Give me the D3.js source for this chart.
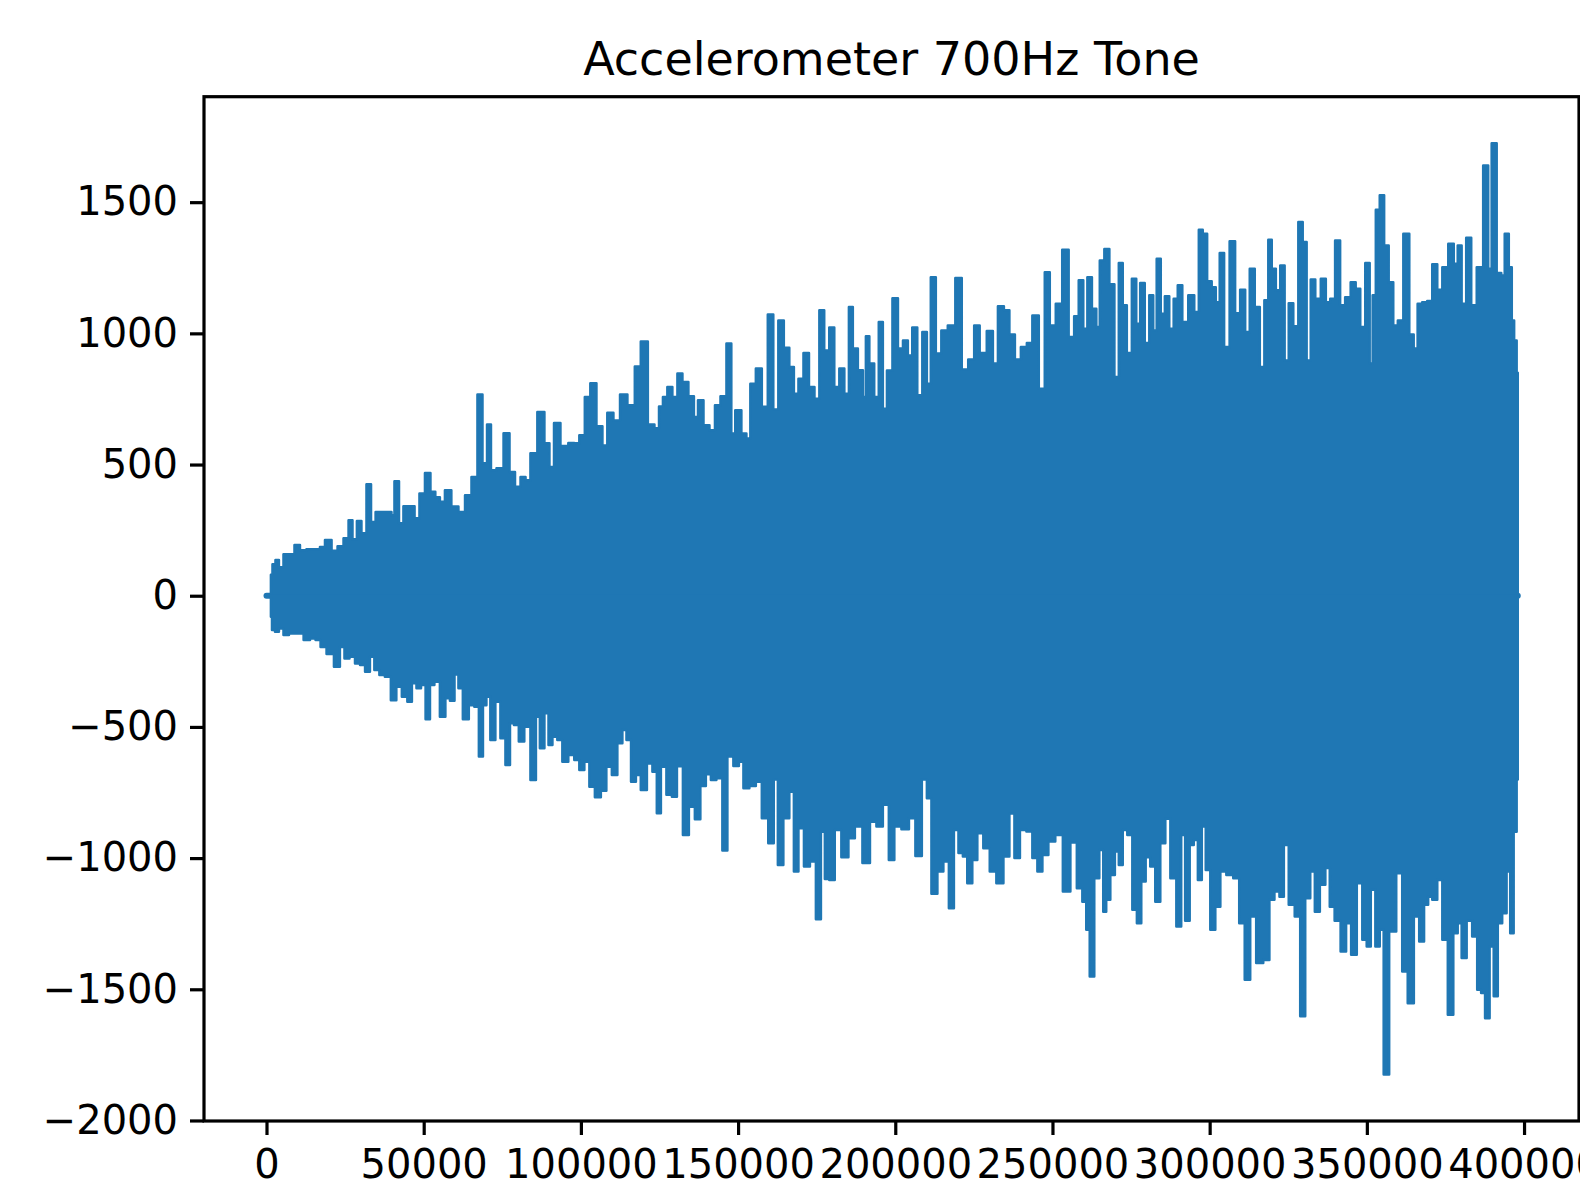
<!DOCTYPE html>
<html lang="en">
<head>
    <meta charset="utf-8">
    <title>Accelerometer 700Hz Tone</title>
    <script src="https://d3js.org/d3.v7.min.js"></script>
    <style>
        body { margin: 0; background: #fff; }
        text { font-family: "DejaVu Sans", sans-serif; fill: #000; }
        .axis path, .axis line { stroke: #000; stroke-width: 3.2px; }
        .axis text { font-size: 40px; }
    </style>
</head>
<body>
<script type="text/javascript">

    // peaks of the positive side of the signal (sample index, value)
    var highSample = [1400, 2400, 3300, 4600, 6200, 8100, 9700, 11600, 13800, 16400, 17600, 19600, 21800, 23400, 25600, 26600, 28100, 29400, 31000, 32600, 33900, 35500, 37700, 39300, 40200, 41200, 43100, 44000, 46300, 47900, 49400, 51400, 52900, 54500, 55800, 57700, 59900, 62200, 64100, 66300, 67900, 69500, 70800, 72000, 74300, 76500, 78100, 80000, 81600, 83200, 84700, 87600, 89200, 90800, 92100, 94900, 97100, 98700, 100300, 102200, 103800, 106100, 107600, 109200, 111500, 113400, 116200, 118100, 120000, 122600, 124200, 125500, 126700, 128300, 129900, 131500, 133100, 135300, 136600, 137900, 140100, 141700, 143600, 145200, 147400, 148300, 149900, 152200, 153100, 154700, 156600, 158500, 160400, 162000, 163600, 165500, 167100, 168400, 170000, 171600, 173500, 175100, 176600, 178200, 179800, 181400, 183000, 184600, 185900, 187100, 189100, 190300, 191000, 192500, 194100, 195400, 196700, 198000, 200200, 201500, 203400, 204600, 206200, 207800, 209400, 210700, 211900, 213900, 215400, 218000, 220200, 222100, 224300, 225900, 227800, 230400, 231700, 233600, 235500, 237100, 239000, 240900, 242800, 244400, 246900, 248200, 250100, 252000, 254200, 256100, 257700, 259000, 260600, 261600, 263500, 264400, 265700, 267300, 268900, 270500, 271700, 273000, 274300, 276200, 277100, 278700, 280000, 281600, 282500, 283800, 285100, 286400, 287900, 289200, 290500, 292100, 294300, 295900, 297200, 298400, 300000, 301300, 302600, 303800, 305400, 307300, 308900, 310500, 312100, 313400, 315300, 316600, 318200, 319100, 320400, 321700, 323200, 324500, 325800, 327400, 329000, 330200, 331500, 332800, 334400, 336300, 337600, 339100, 340700, 342300, 343900, 345800, 347100, 348700, 350300, 351500, 352200, 353500, 354700, 356300, 357600, 359200, 360500, 362700, 364300, 365500, 366800, 368400, 370000, 371600, 373200, 374800, 377000, 378300, 379500, 380800, 382400, 384000, 385900, 388100, 389100, 390300, 392300, 393200, 394500, 395800, 396400, 397300, 398000];
    var highValue = [80, 120, 136, 109, 158, 158, 193, 173, 177, 177, 186, 212, 171, 189, 219, 288, 215, 285, 238, 425, 281, 319, 319, 319, 307, 436, 276, 341, 341, 295, 390, 468, 396, 375, 358, 402, 340, 319, 383, 453, 767, 505, 653, 478, 486, 619, 472, 415, 453, 440, 543, 700, 581, 491, 658, 571, 582, 581, 612, 757, 810, 646, 573, 697, 668, 767, 726, 874, 969, 653, 638, 721, 757, 796, 757, 847, 815, 760, 681, 745, 650, 631, 726, 760, 961, 618, 707, 618, 599, 808, 866, 720, 1072, 710, 1049, 945, 872, 770, 827, 925, 796, 751, 1088, 935, 1022, 796, 866, 770, 1100, 942, 859, 757, 989, 885, 757, 1043, 713, 858, 1134, 942, 973, 916, 1022, 764, 1005, 808, 1214, 923, 1011, 1030, 1211, 862, 900, 1030, 925, 1009, 885, 1103, 1088, 996, 900, 948, 963, 1068, 789, 1233, 1030, 1113, 1319, 986, 1065, 1202, 1018, 1214, 1094, 1024, 1278, 1322, 1187, 834, 1268, 1107, 925, 1208, 1037, 1192, 963, 1145, 1011, 1284, 1075, 1141, 1018, 1132, 1183, 1043, 1145, 1081, 1395, 1380, 1199, 1176, 1119, 1306, 948, 1351, 1077, 1166, 1005, 1246, 1100, 872, 1126, 1357, 1246, 1164, 1259, 897, 1115, 1027, 1424, 1348, 897, 1205, 1132, 1208, 1119, 1132, 1354, 1107, 1138, 1195, 1170, 1024, 1268, 885, 1145, 1471, 1526, 1335, 1195, 1030, 1049, 1380, 996, 942, 1113, 1119, 1123, 1263, 1166, 1252, 1342, 1265, 1335, 1113, 1364, 1107, 1252, 1640, 1246, 1725, 1230, 1221, 1380, 1252, 1049, 973, 850];

    // troughs of the negative side (sample index, value)
    var lowSample = [1400, 2100, 3300, 4600, 6200, 8100, 10700, 12900, 14800, 16400, 18000, 20200, 22700, 24000, 25600, 27200, 29100, 30400, 32300, 33500, 35100, 36700, 38600, 40500, 42100, 44000, 45600, 46900, 48500, 49800, 51400, 52600, 54200, 56100, 57700, 59000, 60600, 61500, 63400, 65300, 66900, 68200, 69500, 70400, 72000, 73600, 75200, 76800, 78100, 79300, 81200, 82800, 85100, 86300, 87600, 89200, 90200, 91700, 93300, 94900, 97100, 98700, 100300, 101900, 103500, 105400, 107300, 108900, 110800, 112400, 114000, 115000, 116900, 118100, 120000, 122000, 123500, 124800, 126100, 128300, 129600, 131500, 133400, 135300, 137200, 138800, 140700, 142000, 144200, 145800, 147400, 149600, 150900, 152500, 154700, 156600, 158500, 160700, 162000, 163300, 165500, 167100, 168400, 170000, 171900, 173800, 175700, 177000, 178200, 179800, 181700, 184000, 186200, 188100, 191000, 192900, 195100, 197000, 198900, 200500, 203400, 205300, 207500, 209400, 210700, 212300, 214500, 216100, 218000, 219300, 220900, 222100, 223700, 225300, 226900, 229100, 231000, 233300, 235500, 237100, 238700, 240600, 242800, 244400, 246000, 247600, 249800, 252000, 254600, 256800, 258700, 260300, 261200, 262500, 264100, 265700, 266600, 267600, 269200, 270500, 271700, 273000, 274600, 276200, 277500, 279000, 280300, 281900, 283500, 285100, 286700, 288300, 290500, 291400, 293000, 294300, 295600, 296900, 298100, 299400, 301000, 302600, 304200, 306400, 308600, 310200, 312100, 313700, 315900, 318200, 319800, 321400, 323000, 324200, 326100, 328000, 329600, 331200, 332800, 334100, 336000, 337600, 338800, 340700, 342600, 344200, 345800, 347800, 349300, 350600, 351900, 353500, 354700, 356000, 358200, 360500, 362000, 364000, 365900, 367400, 369000, 370000, 371600, 373200, 374800, 376700, 378300, 379500, 380800, 382700, 384300, 385900, 386800, 388400, 389700, 391000, 392300, 393800, 395100, 396100, 397300, 398000];
    var lowValue = [-80, -131, -137, -125, -150, -144, -144, -169, -163, -169, -195, -222, -271, -195, -239, -233, -258, -264, -290, -233, -283, -302, -309, -398, -347, -385, -404, -334, -353, -340, -471, -340, -328, -461, -391, -400, -300, -353, -471, -417, -423, -613, -417, -385, -550, -404, -543, -645, -486, -493, -556, -499, -702, -461, -581, -448, -569, -537, -550, -633, -607, -626, -664, -633, -728, -768, -743, -652, -683, -562, -512, -550, -709, -683, -740, -639, -671, -829, -652, -759, -766, -650, -912, -804, -852, -725, -680, -702, -696, -971, -613, -649, -633, -734, -725, -709, -848, -943, -700, -1026, -848, -747, -1051, -886, -1032, -1013, -1233, -900, -1080, -1083, -893, -997, -924, -880, -1019, -861, -880, -797, -1007, -880, -890, -848, -992, -700, -772, -1136, -1051, -1013, -1191, -893, -981, -994, -1096, -1007, -905, -962, -1051, -1096, -994, -830, -1000, -893, -899, -1000, -1051, -988, -937, -912, -1127, -941, -1115, -1166, -1273, -1451, -1077, -969, -1204, -1159, -1064, -975, -1026, -893, -912, -1197, -1248, -1089, -997, -1032, -1166, -943, -850, -1077, -1261, -912, -1239, -950, -931, -1083, -880, -1045, -1273, -1185, -1051, -1064, -1077, -1248, -1464, -1223, -1400, -1388, -1159, -1127, -1147, -950, -1178, -1223, -1603, -1153, -1051, -1204, -1102, -1038, -1185, -1239, -1356, -1248, -1368, -1096, -1311, -1337, -1121, -1337, -1273, -1825, -1280, -1058, -1432, -1553, -1223, -1318, -1178, -1147, -1159, -1083, -1311, -1597, -1286, -1248, -1381, -1239, -1299, -1502, -1514, -1610, -1337, -1527, -1248, -1210, -1051, -1286, -900, -700];

    var xTicks = [0, 50000, 100000, 150000, 200000, 250000, 300000, 350000, 400000];
    var yTicks = [-2000, -1500, -1000, -500, 0, 500, 1000, 1500];
    var lastSample = 398000;

    var w = 1580;
    var h = 1191;
    var plotLeft = 204, plotRight = 1579, plotTop = 96.7, plotBottom = 1121;
    var blue = "#1f77b4";

    var svg = d3.select("body")
            .append("svg")
            .attr("width", w)
            .attr("height", h);

    var x = d3.scaleLinear().domain([-19880, 417480]).range([plotLeft, plotRight]);
    var y = d3.scaleLinear().domain([-2002, 1902]).range([plotBottom, plotTop]);

    var high = highSample.map(function (s, i) { return [s, highValue[i]]; });
    var low = lowSample.map(function (s, i) { return [s, lowValue[i]]; });

    // the flat start of the trace, drawn as a thick line along zero
    svg.append("path")
            .datum([[0, 0], [lastSample, 0]])
            .attr("d", d3.line().x(function (d) { return x(d[0]); }).y(function (d) { return y(d[1]); }))
            .attr("fill", "none")
            .attr("stroke", blue)
            .attr("stroke-width", 6)
            .attr("stroke-linecap", "round");

    var area = d3.area()
            .curve(d3.curveStep)
            .x(function (d) { return x(d[0]); })
            .y0(y(0))
            .y1(function (d) { return y(d[1]); });

    [high, low].forEach(function (env) {
        svg.append("path")
                .datum(env)
                .attr("d", area)
                .attr("fill", blue)
                .attr("stroke", blue)
                .attr("stroke-width", 2.5)
                .attr("stroke-linejoin", "round");
    });

    // axes
    var xAxis = d3.axisBottom(x).tickValues(xTicks).tickFormat(d3.format("d"))
            .tickSize(14).tickSizeOuter(0).tickPadding(15);
    var yAxis = d3.axisLeft(y).tickValues(yTicks).tickFormat(d3.format("d"))
            .tickSize(14).tickSizeOuter(0).tickPadding(12);

    var gx = svg.append("g").attr("class", "axis")
            .attr("transform", "translate(0," + plotBottom + ")")
            .call(xAxis);
    var gy = svg.append("g").attr("class", "axis")
            .attr("transform", "translate(" + plotLeft + ",0)")
            .call(yAxis);
    gx.select(".domain").remove();
    gy.select(".domain").remove();
    svg.selectAll(".axis text").attr("font-family", "DejaVu Sans").attr("font-size", 40);

    svg.append("rect")
            .attr("x", plotLeft).attr("y", plotTop)
            .attr("width", plotRight - plotLeft).attr("height", plotBottom - plotTop)
            .attr("fill", "none")
            .attr("stroke", "#000")
            .attr("stroke-width", 3.2);

    svg.append("text")
            .attr("x", (plotLeft + plotRight) / 2)
            .attr("y", 75)
            .attr("text-anchor", "middle")
            .attr("font-size", 46)
            .text("Accelerometer 700Hz Tone");

</script>
</body>
</html>
